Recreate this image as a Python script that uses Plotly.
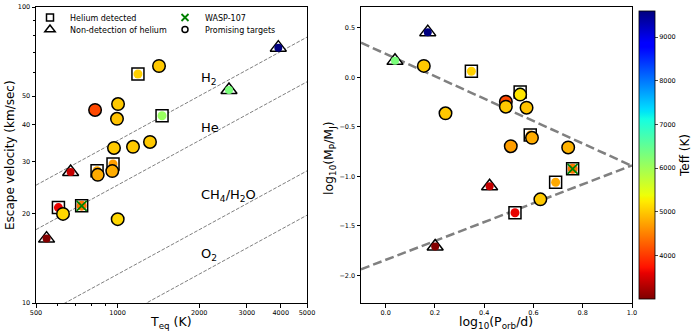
import numpy as np
import plotly.graph_objects as go

# ---- left panel: Teq (K) vs escape velocity (km/s) ----
det_teq = [1189, 1459, 840, 962, 605]
det_vesc = [59.4, 42.9, 28.0, 29.5, 21.0]
det_teff = [5050, 6065, 4780, 4700, 3600]

non_teq = [3918, 2577, 671, 547]
non_vesc = [72.9, 52.4, 27.7, 16.5]
non_teff = [9600, 6300, 3400, 3026]

w107_teq = [737]
w107_vesc = [21.3]
w107_teff = [4430]

prom_teq = [1422, 826, 1004, 995, 970, 1140, 1317, 845, 956, 629, 1001]
prom_vesc = [63.2, 44.9, 47.0, 41.9, 33.4, 33.7, 35.0, 27.1, 27.9, 20.0, 19.2]
prom_teff = [5000, 4100, 5000, 4950, 5000, 5000, 5000, 4800, 4800, 5100, 5100]

# reference lines (escape velocity = thermal velocity scale for each species)
line_teq = [500, 5000]
h2_line = [25.0, 79.1]
he_line = [17.7, 55.9]
ch4_line = [8.84, 27.95]
o2_line = [6.25, 19.8]

# ---- right panel: log10(P/d) vs log10(Mp/MJ) ----
det_logp = [0.348, 0.546, 0.690, 0.587, 0.525]
det_logm = [0.061, -0.148, -1.060, -0.584, -1.368]

non_logp = [0.171, 0.038, 0.422, 0.201]
non_logm = [0.456, 0.166, -1.101, -1.709]

w107_logp = [0.759]
w107_logm = [-0.925]

prom_logp = [0.155, 0.243, 0.488, 0.488, 0.508, 0.546, 0.572, 0.594, 0.741, 0.628]
prom_logm = [0.115, -0.364, -0.247, -0.297, -0.696, -0.175, -0.307, -0.611, -0.709, -1.233]
prom_teff2 = [5000, 5000, 4100, 5000, 4700, 5200, 4950, 4800, 4850, 5000]

desert_x = [-0.1, 1.0]
desert_upper = [0.35, -0.895]
desert_lower = [-1.94, -0.89]

cbar_ticks = [4000, 5000, 6000, 7000, 8000, 9000]

FONT = "DejaVu Sans"


def mpl_jet():
    pos = [0, 0.11, 0.125, 0.34, 0.35, 0.375, 0.64, 0.65, 0.66, 0.89, 0.91, 1]
    r = np.interp(pos, [0, 0.35, 0.66, 0.89, 1], [0, 0, 1, 1, 0.5])
    g = np.interp(pos, [0, 0.125, 0.375, 0.64, 0.91, 1], [0, 0, 1, 1, 0, 0])
    b = np.interp(pos, [0, 0.11, 0.34, 0.65, 1], [0.5, 1, 1, 0, 0])
    return [[p, 'rgb(%d,%d,%d)' % (255*rr, 255*gg, 255*bb)] for p, rr, gg, bb in zip(pos, r, g, b)]


fig = go.Figure()


def add_panel(xa, ya, sq, tri, wasp, prom, prom_c):
    # squares (helium detected)
    fig.add_trace(go.Scatter(x=sq[0], y=sq[1], mode='markers', xaxis=xa, yaxis=ya, showlegend=False,
                             marker=dict(symbol='square', size=12, color='white', line=dict(color='black', width=1.5))))
    fig.add_trace(go.Scatter(x=sq[0], y=sq[1], mode='markers', xaxis=xa, yaxis=ya, showlegend=False,
                             marker=dict(size=9, color=det_teff, coloraxis='coloraxis', line=dict(width=0))))
    # triangles (non-detections)
    fig.add_trace(go.Scatter(x=tri[0], y=tri[1], mode='markers', xaxis=xa, yaxis=ya, showlegend=False,
                             marker=dict(symbol='triangle-up', size=14, color='white', line=dict(color='black', width=1.5))))
    fig.add_trace(go.Scatter(x=tri[0], y=tri[1], mode='markers', xaxis=xa, yaxis=ya, showlegend=False,
                             marker=dict(size=8, color=non_teff, coloraxis='coloraxis', line=dict(width=0))))
    # WASP-107
    fig.add_trace(go.Scatter(x=wasp[0], y=wasp[1], mode='markers', xaxis=xa, yaxis=ya, showlegend=False,
                             marker=dict(symbol='square', size=12, color='white', line=dict(color='black', width=1.5))))
    fig.add_trace(go.Scatter(x=wasp[0], y=wasp[1], mode='markers', xaxis=xa, yaxis=ya, showlegend=False,
                             marker=dict(size=10, color=w107_teff, coloraxis='coloraxis', line=dict(width=0))))
    fig.add_trace(go.Scatter(x=wasp[0], y=wasp[1], mode='markers', xaxis=xa, yaxis=ya, showlegend=False,
                             marker=dict(symbol='x-thin', size=10, color='green', line=dict(color='green', width=1.8))))
    # promising targets
    fig.add_trace(go.Scatter(x=prom[0], y=prom[1], mode='markers', xaxis=xa, yaxis=ya, showlegend=False,
                             marker=dict(size=12.5, color=prom_c, coloraxis='coloraxis', line=dict(color='black', width=1.5))))


# left panel lines
for v in [h2_line, he_line, ch4_line, o2_line]:
    fig.add_trace(go.Scatter(x=line_teq, y=v, mode='lines', xaxis='x', yaxis='y', showlegend=False,
                             line=dict(color='grey', width=1, dash='3.7px,1.6px')))
add_panel('x', 'y', (det_teq, det_vesc), (non_teq, non_vesc), (w107_teq, w107_vesc),
          (prom_teq, prom_vesc), prom_teff)

# right panel lines
for v in [desert_upper, desert_lower]:
    fig.add_trace(go.Scatter(x=desert_x, y=v, mode='lines', xaxis='x2', yaxis='y2', showlegend=False,
                             line=dict(color='grey', width=2.5, dash='9px,4px')))
add_panel('x2', 'y2', (det_logp, det_logm), (non_logp, non_logm), (w107_logp, w107_logm),
          (prom_logp, prom_logm), prom_teff2)

# legend entries (one legend box each, to mimic matplotlib's 2-column legend)
leg_items = [
    ('Helium detected', dict(symbol='square', size=7, color='white', line=dict(color='black', width=1.5)), 'legend'),
    ('Non-detection of helium', dict(symbol='triangle-up', size=9, color='white', line=dict(color='black', width=1.5)), 'legend2'),
    ('WASP-107', dict(symbol='x-thin', size=7, color='green', line=dict(color='green', width=1.8)), 'legend3'),
    ('Promising targets', dict(symbol='circle', size=6, color='white', line=dict(color='black', width=1.5)), 'legend4'),
]
for name, mk, lg in leg_items:
    fig.add_trace(go.Scatter(x=[None], y=[None], mode='markers', name=name, marker=mk, legend=lg,
                             xaxis='x', yaxis='y'))

L, R, T, B = 36, 64, 7, 32
W, H = 696, 335
PW, PH = W - L - R, H - T - B


def px(xp):
    return (xp - L) / PW


def py(yp):
    return 1 - (yp - T) / PH


axis_common = dict(showline=True, linecolor='black', linewidth=1, mirror=True, ticks='outside', ticklen=3.5,
                   tickwidth=0.8, tickcolor='black', showgrid=False, zeroline=False, automargin=False,
                   tickfont=dict(size=6.5, color='black', family=FONT))

leg_common = dict(bgcolor='rgba(0,0,0,0)', font=dict(size=8, family=FONT, color='black'),
                  xanchor='left', yanchor='middle', itemsizing='trace')

fig.update_layout(
    width=W, height=H,
    margin=dict(l=L, r=R, t=T, b=B, autoexpand=False),
    paper_bgcolor='white', plot_bgcolor='white',
    font=dict(family=FONT, color='black'),
    xaxis=dict(type='log', range=[np.log10(500), np.log10(5000)], domain=[0, 271 / PW],
               tickvals=[500, 1000, 2000, 3000, 4000, 5000], ticktext=['500', '1000', '2000', '3000', '4000', '5000'],
               minor=dict(tickvals=[600, 700, 800, 900], ticks='outside', ticklen=2, tickcolor='black'),
               anchor='y', **axis_common),
    yaxis=dict(type='log', range=[1, 2], tickvals=[10, 20, 30, 40, 50, 100],
               ticktext=['10', '20', '30', '40', '50', '100'],
               minor=dict(tickvals=[60, 70, 80, 90], ticks='outside', ticklen=2, tickcolor='black'),
               anchor='x', **axis_common),
    xaxis2=dict(range=[-0.1, 1.0], domain=[325 / PW, 1], tickvals=[0, 0.2, 0.4, 0.6, 0.8, 1.0],
                tickformat='.1f', anchor='y2', **axis_common),
    yaxis2=dict(range=[-2.28, 0.71], tickvals=[-2.0, -1.5, -1.0, -0.5, 0.0, 0.5], tickformat='.1f',
                anchor='x2', **axis_common),
    coloraxis=dict(colorscale=mpl_jet(), reversescale=True, cmin=3000, cmax=9600,
                   colorbar=dict(x=px(639), xanchor='left', xpad=0, ypad=0, y=0.5, yanchor='middle',
                                 len=(299 - 11) / PH, thickness=16, outlinewidth=0.8, outlinecolor='black',
                                 tickvals=cbar_ticks, ticks='outside', ticklen=3, tickwidth=0.8,
                                 tickfont=dict(size=6.5, family=FONT, color='black'),
                                 title=dict(text='Teff (K)', side='right', font=dict(size=12, family=FONT)))),
    legend=dict(x=px(30), y=py(17.5), **leg_common),
    legend2=dict(x=px(30), y=py(29.5), **leg_common),
    legend3=dict(x=px(165), y=py(17.5), **leg_common),
    legend4=dict(x=px(165), y=py(29.5), **leg_common),
)

ann = [
    dict(text='Escape velocity (km/sec)', x=px(10), y=py(155), textangle=-90, font=dict(size=12)),
    dict(text='T<sub>eq</sub> (K)', x=px(171), y=py(322.5), font=dict(size=12.5)),
    dict(text='log<sub>10</sub>(P<sub>orb</sub>/d)', x=px(496), y=py(322.5), font=dict(size=12.5)),
    dict(text='log<sub>10</sub>(M<sub>P</sub>/M<sub>J</sub>)', x=px(329), y=py(158), textangle=-90,
         font=dict(size=12.5)),
]
for a in ann:
    fig.add_annotation(xref='paper', yref='paper', showarrow=False, xanchor='center', yanchor='middle', **a)

# species labels on the left panel
for txt, yv in [('H<sub>2</sub>', 57.5), ('He', 39.2), ('CH<sub>4</sub>/H<sub>2</sub>O', 23.0), ('O<sub>2</sub>', 14.6)]:
    fig.add_annotation(xref='x', yref='y', x=np.log10(1990), y=np.log10(yv), text=txt, showarrow=False,
                       xanchor='left', yanchor='middle', font=dict(size=13, family=FONT, color='black'))

# the page body has a default 8px margin; drop it so the figure sits at the window origin
fig.write_html("out.html", config={'displayModeBar': False},
               post_script="document.body.style.margin='0';")
